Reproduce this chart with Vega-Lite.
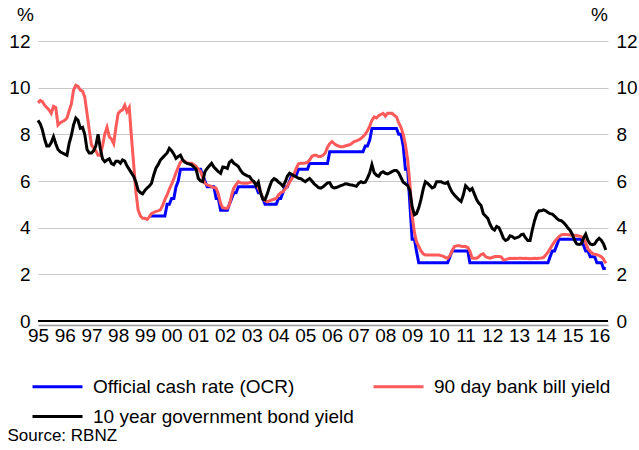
{
  "$schema": "https://vega.github.io/schema/vega-lite/v6.json",
  "width": 570,
  "height": 280,
  "autosize": {"type": "none"},
  "padding": {"left": 38, "top": 41, "right": 31, "bottom": 129},
  "config": {
    "font": "Liberation Sans",
    "view": {"stroke": null},
    "axis": {"labelColor": "#000", "titleColor": "#000", "labelFontSize": 19, "titleFontSize": 19, "titleFontWeight": "normal"},
    "legend": {"labelColor": "#000"}
  },
  "layer": [
    {
      "data": {"values": [
        {"d":"1995-01-01","b":9.35,"g":8.6},{"d":"1995-02-01","b":9.45,"g":8.45},{"d":"1995-03-01","b":9.4,"g":8.2},{"d":"1995-04-01","b":9.25,"g":7.8},{"d":"1995-05-01","b":9.15,"g":7.5},{"d":"1995-06-01","b":9.05,"g":7.5},{"d":"1995-07-01","b":8.9,"g":7.65},{"d":"1995-08-01","b":9.2,"g":7.9},{"d":"1995-09-01","b":9.15,"g":7.6},{"d":"1995-10-01","b":8.4,"g":7.35},{"d":"1995-11-01","b":8.5,"g":7.25},{"d":"1995-12-01","b":8.55,"g":7.2},
        {"d":"1996-01-01","b":8.6,"g":7.15},{"d":"1996-02-01","b":8.7,"g":7.1},{"d":"1996-03-01","b":9.0,"g":7.6},{"d":"1996-04-01","b":9.3,"g":7.95},{"d":"1996-05-01","b":9.9,"g":8.4},{"d":"1996-06-01","b":10.1,"g":8.7},{"d":"1996-07-01","b":10.05,"g":8.6},{"d":"1996-08-01","b":9.9,"g":8.26},{"d":"1996-09-01","b":9.85,"g":8.3},{"d":"1996-10-01","b":9.6,"g":8.0},{"d":"1996-11-01","b":8.9,"g":7.35},{"d":"1996-12-01","b":8.2,"g":7.2},
        {"d":"1997-01-01","b":7.55,"g":7.2},{"d":"1997-02-01","b":7.4,"g":7.3},{"d":"1997-03-01","b":7.3,"g":7.5},{"d":"1997-04-01","b":7.1,"g":8.0},{"d":"1997-05-01","b":7.1,"g":7.4},{"d":"1997-06-01","b":7.5,"g":6.95},{"d":"1997-07-01","b":8.0,"g":6.83},{"d":"1997-08-01","b":8.3,"g":6.9},{"d":"1997-09-01","b":7.9,"g":6.95},{"d":"1997-10-01","b":7.8,"g":6.75},{"d":"1997-11-01","b":7.6,"g":6.7},{"d":"1997-12-01","b":8.3,"g":6.85},
        {"d":"1998-01-01","b":8.9,"g":6.85},{"d":"1998-02-01","b":9.0,"g":6.76},{"d":"1998-03-01","b":9.05,"g":6.9},{"d":"1998-04-01","b":9.25,"g":6.85},{"d":"1998-05-01","b":8.97,"g":6.65},{"d":"1998-06-01","b":9.15,"g":6.5},{"d":"1998-07-01","b":7.9,"g":6.35},{"d":"1998-08-01","b":6.7,"g":6.2},{"d":"1998-09-01","b":5.5,"g":5.95},{"d":"1998-10-01","b":4.75,"g":5.6},{"d":"1998-11-01","b":4.5,"g":5.5},{"d":"1998-12-01","b":4.4,"g":5.45},
        {"d":"1999-01-01","b":4.4,"g":5.6},{"d":"1999-02-01","b":4.35,"g":5.7},{"d":"1999-03-01","o":4.5,"b":4.45,"g":5.78},{"d":"1999-04-01","o":4.5,"b":4.6,"g":5.9},{"d":"1999-05-01","o":4.5,"b":4.65,"g":6.25},{"d":"1999-06-01","o":4.5,"b":4.7,"g":6.55},{"d":"1999-07-01","o":4.5,"b":4.72,"g":6.7},{"d":"1999-08-01","o":4.5,"b":4.76,"g":6.9},{"d":"1999-09-01","o":4.5,"b":4.95,"g":7.0},{"d":"1999-10-01","o":4.5,"b":5.2,"g":7.1},{"d":"1999-11-01","o":5.0,"b":5.4,"g":7.2},{"d":"1999-12-01","o":5.0,"b":5.65,"g":7.4},
        {"d":"2000-01-01","o":5.25,"b":5.85,"g":7.3},{"d":"2000-02-01","o":5.25,"b":6.1,"g":7.15},{"d":"2000-03-01","o":5.75,"b":6.35,"g":6.97},{"d":"2000-04-01","o":6.0,"b":6.6,"g":7.05},{"d":"2000-05-01","o":6.5,"b":6.8,"g":7.11},{"d":"2000-06-01","o":6.5,"b":6.9,"g":6.9},{"d":"2000-07-01","o":6.5,"b":6.85,"g":6.8},{"d":"2000-08-01","o":6.5,"b":6.76,"g":6.76},{"d":"2000-09-01","o":6.5,"b":6.76,"g":6.72},{"d":"2000-10-01","o":6.5,"b":6.76,"g":6.69},{"d":"2000-11-01","o":6.5,"b":6.7,"g":6.6},{"d":"2000-12-01","o":6.5,"b":6.63,"g":6.5},
        {"d":"2001-01-01","o":6.5,"b":6.5,"g":6.11},{"d":"2001-02-01","o":6.5,"b":6.4,"g":6.0},{"d":"2001-03-01","o":6.25,"b":6.15,"g":5.97},{"d":"2001-04-01","o":6.0,"b":5.9,"g":6.4},{"d":"2001-05-01","o":5.75,"b":5.83,"g":6.54},{"d":"2001-06-01","o":5.75,"b":5.8,"g":6.65},{"d":"2001-07-01","o":5.75,"b":5.76,"g":6.76},{"d":"2001-08-01","o":5.75,"b":5.72,"g":6.6},{"d":"2001-09-01","o":5.25,"b":5.69,"g":6.5},{"d":"2001-10-01","o":5.25,"b":5.45,"g":6.4},{"d":"2001-11-01","o":4.75,"b":5.04,"g":6.33},{"d":"2001-12-01","o":4.75,"b":4.85,"g":6.6},
        {"d":"2002-01-01","o":4.75,"b":4.83,"g":6.58},{"d":"2002-02-01","o":4.75,"b":4.83,"g":6.54},{"d":"2002-03-01","o":5.0,"b":4.97,"g":6.8},{"d":"2002-04-01","o":5.25,"b":5.4,"g":6.88},{"d":"2002-05-01","o":5.5,"b":5.7,"g":6.76},{"d":"2002-06-01","o":5.5,"b":5.85,"g":6.7},{"d":"2002-07-01","o":5.75,"b":5.97,"g":6.62},{"d":"2002-08-01","o":5.75,"b":5.92,"g":6.45},{"d":"2002-09-01","o":5.75,"b":5.9,"g":6.33},{"d":"2002-10-01","o":5.75,"b":5.9,"g":6.27},{"d":"2002-11-01","o":5.75,"b":5.9,"g":6.22},{"d":"2002-12-01","o":5.75,"b":5.93,"g":6.19},
        {"d":"2003-01-01","o":5.75,"b":5.97,"g":6.05},{"d":"2003-02-01","o":5.75,"b":5.95,"g":5.97},{"d":"2003-03-01","o":5.75,"b":5.85,"g":5.8},{"d":"2003-04-01","o":5.5,"b":5.7,"g":5.95},{"d":"2003-05-01","o":5.5,"b":5.5,"g":5.5},{"d":"2003-06-01","o":5.25,"b":5.25,"g":5.22},{"d":"2003-07-01","o":5.0,"b":5.15,"g":5.2},{"d":"2003-08-01","o":5.0,"b":5.11,"g":5.45},{"d":"2003-09-01","o":5.0,"b":5.15,"g":5.75},{"d":"2003-10-01","o":5.0,"b":5.19,"g":6.0},{"d":"2003-11-01","o":5.0,"b":5.22,"g":6.1},{"d":"2003-12-01","o":5.0,"b":5.25,"g":6.05},
        {"d":"2004-01-01","o":5.25,"b":5.4,"g":5.95},{"d":"2004-02-01","o":5.25,"b":5.5,"g":5.88},{"d":"2004-03-01","o":5.5,"b":5.54,"g":5.78},{"d":"2004-04-01","o":5.75,"b":5.65,"g":5.95},{"d":"2004-05-01","o":5.75,"b":5.78,"g":6.2},{"d":"2004-06-01","o":6.0,"b":5.95,"g":6.33},{"d":"2004-07-01","o":6.25,"b":6.1,"g":6.28},{"d":"2004-08-01","o":6.25,"b":6.3,"g":6.22},{"d":"2004-09-01","o":6.25,"b":6.55,"g":6.17},{"d":"2004-10-01","o":6.5,"b":6.74,"g":6.12},{"d":"2004-11-01","o":6.5,"b":6.76,"g":6.1},{"d":"2004-12-01","o":6.5,"b":6.76,"g":6.03},
        {"d":"2005-01-01","o":6.5,"b":6.77,"g":5.97},{"d":"2005-02-01","o":6.5,"b":6.8,"g":6.05},{"d":"2005-03-01","o":6.75,"b":6.9,"g":6.11},{"d":"2005-04-01","o":6.75,"b":7.05,"g":6.0},{"d":"2005-05-01","o":6.75,"b":7.1,"g":5.88},{"d":"2005-06-01","o":6.75,"b":7.1,"g":5.8},{"d":"2005-07-01","o":6.75,"b":7.05,"g":5.72},{"d":"2005-08-01","o":6.75,"b":7.05,"g":5.69},{"d":"2005-09-01","o":6.75,"b":7.1,"g":5.75},{"d":"2005-10-01","o":6.75,"b":7.2,"g":5.83},{"d":"2005-11-01","o":6.75,"b":7.45,"g":5.92},{"d":"2005-12-01","o":7.25,"b":7.6,"g":5.93},
        {"d":"2006-01-01","o":7.25,"b":7.69,"g":5.75},{"d":"2006-02-01","o":7.25,"b":7.6,"g":5.7},{"d":"2006-03-01","o":7.25,"b":7.54,"g":5.72},{"d":"2006-04-01","o":7.25,"b":7.5,"g":5.76},{"d":"2006-05-01","o":7.25,"b":7.47,"g":5.8},{"d":"2006-06-01","o":7.25,"b":7.47,"g":5.83},{"d":"2006-07-01","o":7.25,"b":7.5,"g":5.88},{"d":"2006-08-01","o":7.25,"b":7.53,"g":5.87},{"d":"2006-09-01","o":7.25,"b":7.55,"g":5.84},{"d":"2006-10-01","o":7.25,"b":7.62,"g":5.83},{"d":"2006-11-01","o":7.25,"b":7.69,"g":5.8},{"d":"2006-12-01","o":7.25,"b":7.72,"g":5.77},
        {"d":"2007-01-01","o":7.25,"b":7.76,"g":5.9},{"d":"2007-02-01","o":7.25,"b":7.82,"g":5.97},{"d":"2007-03-01","o":7.25,"b":7.9,"g":5.93},{"d":"2007-04-01","o":7.5,"b":8.0,"g":5.95},{"d":"2007-05-01","o":7.5,"b":8.15,"g":6.12},{"d":"2007-06-01","o":7.75,"b":8.35,"g":6.35},{"d":"2007-07-01","o":8.25,"b":8.6,"g":6.7},{"d":"2007-08-01","o":8.25,"b":8.75,"g":6.35},{"d":"2007-09-01","o":8.25,"b":8.7,"g":6.25},{"d":"2007-10-01","o":8.25,"b":8.8,"g":6.2},{"d":"2007-11-01","o":8.25,"b":8.85,"g":6.35},{"d":"2007-12-01","o":8.25,"b":8.9,"g":6.4},
        {"d":"2008-01-01","o":8.25,"b":8.78,"g":6.33},{"d":"2008-02-01","o":8.25,"b":8.9,"g":6.3},{"d":"2008-03-01","o":8.25,"b":8.9,"g":6.35},{"d":"2008-04-01","o":8.25,"b":8.9,"g":6.4},{"d":"2008-05-01","o":8.25,"b":8.82,"g":6.45},{"d":"2008-06-01","o":8.25,"b":8.75,"g":6.45},{"d":"2008-07-01","o":8.0,"b":8.5,"g":6.35},{"d":"2008-08-01","o":8.0,"b":8.3,"g":6.15},{"d":"2008-09-01","o":7.5,"b":8.0,"g":5.95},{"d":"2008-10-01","o":6.5,"b":7.55,"g":5.88},{"d":"2008-11-01","o":6.5,"b":6.9,"g":5.8},{"d":"2008-12-01","o":5.0,"b":5.9,"g":5.6},
        {"d":"2009-01-01","o":3.5,"b":4.5,"g":4.9},{"d":"2009-02-01","o":3.5,"b":3.8,"g":4.55},{"d":"2009-03-01","o":3.0,"b":3.4,"g":4.6},{"d":"2009-04-01","o":2.5,"b":3.2,"g":4.85},{"d":"2009-05-01","o":2.5,"b":3.0,"g":5.2},{"d":"2009-06-01","o":2.5,"b":2.88,"g":5.65},{"d":"2009-07-01","o":2.5,"b":2.83,"g":5.97},{"d":"2009-08-01","o":2.5,"b":2.83,"g":5.9},{"d":"2009-09-01","o":2.5,"b":2.83,"g":5.8},{"d":"2009-10-01","o":2.5,"b":2.83,"g":5.7},{"d":"2009-11-01","o":2.5,"b":2.83,"g":5.75},{"d":"2009-12-01","o":2.5,"b":2.83,"g":5.97},
        {"d":"2010-01-01","o":2.5,"b":2.83,"g":5.97},{"d":"2010-02-01","o":2.5,"b":2.8,"g":5.97},{"d":"2010-03-01","o":2.5,"b":2.78,"g":5.92},{"d":"2010-04-01","o":2.5,"b":2.72,"g":5.9},{"d":"2010-05-01","o":2.5,"b":2.69,"g":5.95},{"d":"2010-06-01","o":2.75,"b":2.8,"g":5.7},{"d":"2010-07-01","o":3.0,"b":3.0,"g":5.52},{"d":"2010-08-01","o":3.0,"b":3.19,"g":5.4},{"d":"2010-09-01","o":3.0,"b":3.22,"g":5.3},{"d":"2010-10-01","o":3.0,"b":3.23,"g":5.2},{"d":"2010-11-01","o":3.0,"b":3.2,"g":5.12},{"d":"2010-12-01","o":3.0,"b":3.19,"g":5.4},
        {"d":"2011-01-01","o":3.0,"b":3.19,"g":5.8},{"d":"2011-02-01","o":3.0,"b":3.15,"g":5.7},{"d":"2011-03-01","o":2.5,"b":3.0,"g":5.6},{"d":"2011-04-01","o":2.5,"b":2.7,"g":5.68},{"d":"2011-05-01","o":2.5,"b":2.69,"g":5.45},{"d":"2011-06-01","o":2.5,"b":2.69,"g":5.2},{"d":"2011-07-01","o":2.5,"b":2.75,"g":5.05},{"d":"2011-08-01","o":2.5,"b":2.85,"g":4.95},{"d":"2011-09-01","o":2.5,"b":2.88,"g":4.6},{"d":"2011-10-01","o":2.5,"b":2.76,"g":4.5},{"d":"2011-11-01","o":2.5,"b":2.72,"g":4.4},{"d":"2011-12-01","o":2.5,"b":2.69,"g":4.15},
        {"d":"2012-01-01","o":2.5,"b":2.72,"g":3.97},{"d":"2012-02-01","o":2.5,"b":2.76,"g":3.9},{"d":"2012-03-01","o":2.5,"b":2.76,"g":4.05},{"d":"2012-04-01","o":2.5,"b":2.76,"g":4.0},{"d":"2012-05-01","o":2.5,"b":2.75,"g":3.8},{"d":"2012-06-01","o":2.5,"b":2.62,"g":3.55},{"d":"2012-07-01","o":2.5,"b":2.63,"g":3.45},{"d":"2012-08-01","o":2.5,"b":2.66,"g":3.5},{"d":"2012-09-01","o":2.5,"b":2.69,"g":3.65},{"d":"2012-10-01","o":2.5,"b":2.68,"g":3.62},{"d":"2012-11-01","o":2.5,"b":2.69,"g":3.54},{"d":"2012-12-01","o":2.5,"b":2.68,"g":3.57},
        {"d":"2013-01-01","o":2.5,"b":2.69,"g":3.61},{"d":"2013-02-01","o":2.5,"b":2.69,"g":3.7},{"d":"2013-03-01","o":2.5,"b":2.68,"g":3.72},{"d":"2013-04-01","o":2.5,"b":2.69,"g":3.56},{"d":"2013-05-01","o":2.5,"b":2.68,"g":3.45},{"d":"2013-06-01","o":2.5,"b":2.67,"g":3.45},{"d":"2013-07-01","o":2.5,"b":2.68,"g":3.9},{"d":"2013-08-01","o":2.5,"b":2.69,"g":4.3},{"d":"2013-09-01","o":2.5,"b":2.68,"g":4.6},{"d":"2013-10-01","o":2.5,"b":2.69,"g":4.72},{"d":"2013-11-01","o":2.5,"b":2.7,"g":4.72},{"d":"2013-12-01","o":2.5,"b":2.72,"g":4.76},
        {"d":"2014-01-01","o":2.5,"b":2.83,"g":4.72},{"d":"2014-02-01","o":2.5,"b":2.95,"g":4.65},{"d":"2014-03-01","o":2.75,"b":3.1,"g":4.6},{"d":"2014-04-01","o":3.0,"b":3.25,"g":4.58},{"d":"2014-05-01","o":3.0,"b":3.4,"g":4.5},{"d":"2014-06-01","o":3.25,"b":3.52,"g":4.4},{"d":"2014-07-01","o":3.5,"b":3.62,"g":4.32},{"d":"2014-08-01","o":3.5,"b":3.69,"g":4.3},{"d":"2014-09-01","o":3.5,"b":3.71,"g":4.22},{"d":"2014-10-01","o":3.5,"b":3.71,"g":4.12},{"d":"2014-11-01","o":3.5,"b":3.7,"g":3.98},{"d":"2014-12-01","o":3.5,"b":3.69,"g":3.88},
        {"d":"2015-01-01","o":3.5,"b":3.69,"g":3.7},{"d":"2015-02-01","o":3.5,"b":3.67,"g":3.45},{"d":"2015-03-01","o":3.5,"b":3.66,"g":3.3},{"d":"2015-04-01","o":3.5,"b":3.64,"g":3.28},{"d":"2015-05-01","o":3.5,"b":3.62,"g":3.3},{"d":"2015-06-01","o":3.25,"b":3.55,"g":3.55},{"d":"2015-07-01","o":3.0,"b":3.35,"g":3.72},{"d":"2015-08-01","o":3.0,"b":3.1,"g":3.45},{"d":"2015-09-01","o":2.75,"b":2.98,"g":3.3},{"d":"2015-10-01","o":2.75,"b":2.9,"g":3.27},{"d":"2015-11-01","o":2.75,"b":2.86,"g":3.3},{"d":"2015-12-01","o":2.5,"b":2.84,"g":3.45},
        {"d":"2016-01-01","o":2.5,"b":2.8,"g":3.54},{"d":"2016-02-01","o":2.5,"b":2.75,"g":3.45},{"d":"2016-03-01","o":2.25,"b":2.65,"g":3.3},{"d":"2016-04-01","o":2.25,"b":2.47,"g":3.04}
      ]},
      "encoding": {
        "x": {
          "field": "d", "type": "temporal",
          "scale": {"type": "utc", "domain": [{"year": 1995, "month": 1, "date": 1, "utc": true}, {"year": 2016, "month": 5, "date": 1, "utc": true}]},
          "axis": {"format": "%y", "tickCount": {"interval": "year", "step": 1}, "labelOverlap": false, "labelFlush": false, "labelAngle": 0, "ticks": false, "domain": false, "grid": false, "labelPadding": 5, "title": "Source: RBNZ", "titleX": -31, "titleY": 114, "titleAlign": "left", "titleBaseline": "middle", "titleAnchor": null, "titleFontSize": 17}
        }
      },
      "layer": [
        {
          "mark": {"type": "line", "strokeWidth": 3},
          "encoding": {
            "y": {"field": "o", "type": "quantitative", "scale": {"domain": [0, 12]},
              "axis": {"orient": "left", "values": [0, 2, 4, 6, 8, 10, 12], "grid": true, "gridColor": "#c8c8c8", "gridWidth": 1, "domain": false, "ticks": false, "labelPadding": 8, "title": "%", "titleAngle": 0, "titleX": -13, "titleY": -27, "titleAlign": "center", "titleBaseline": "middle"}},
            "color": {"datum": "Official cash rate (OCR)", "type": "nominal",
              "scale": {"domain": ["Official cash rate (OCR)", "90 day bank bill yield", "10 year government bond yield"], "range": ["#0000ff", "#ff5a5a", "#000000"]},
              "legend": {"orient": "none", "legendX": 8, "legendY": 334, "direction": "horizontal", "columns": 2, "symbolType": "M-2.5,0H2.5", "symbolSize": 400, "symbolStrokeWidth": 3, "labelFontSize": 19, "labelOffset": 24, "columnPadding": 13, "rowPadding": 8, "title": null, "labelLimit": 400}}
          }
        },
        {
          "mark": {"type": "line", "strokeWidth": 3},
          "encoding": {
            "y": {"field": "b", "type": "quantitative",
              "axis": {"orient": "left", "values": [0, 2, 4, 6, 8, 10, 12], "grid": true, "gridColor": "#c8c8c8", "gridWidth": 1, "domain": false, "ticks": false, "labelPadding": 8, "title": "%", "titleAngle": 0, "titleX": -13, "titleY": -27, "titleAlign": "center", "titleBaseline": "middle"}},
            "color": {"datum": "90 day bank bill yield", "type": "nominal"}
          }
        },
        {
          "mark": {"type": "line", "strokeWidth": 3},
          "encoding": {
            "y": {"field": "g", "type": "quantitative",
              "axis": {"orient": "left", "values": [0, 2, 4, 6, 8, 10, 12], "grid": true, "gridColor": "#c8c8c8", "gridWidth": 1, "domain": false, "ticks": false, "labelPadding": 8, "title": "%", "titleAngle": 0, "titleX": -13, "titleY": -27, "titleAlign": "center", "titleBaseline": "middle"}},
            "color": {"datum": "10 year government bond yield", "type": "nominal"}
          }
        }
      ]
    },
    {
      "data": {"values": [{}]},
      "mark": {"type": "rule", "color": "#000000", "strokeWidth": 2},
      "encoding": {
        "y": {"datum": 0, "type": "quantitative", "scale": {"domain": [0, 12]},
          "axis": {"orient": "right", "values": [0, 2, 4, 6, 8, 10, 12], "grid": false, "domain": false, "ticks": false, "labelPadding": 8, "title": "%", "titleAngle": 0, "titleX": -9, "titleY": -27, "titleAlign": "center", "titleBaseline": "middle"}}
      }
    },
    {
      "data": {"values": [{}]},
      "mark": {"type": "rule", "opacity": 0},
      "encoding": {
        "x": {"datum": {"year": 2000, "month": 1, "date": 1, "utc": true}, "type": "temporal",
          "axis": {"orient": "bottom", "offset": 4, "domain": true, "domainColor": "#999999", "domainWidth": 1.5, "labels": false, "ticks": false, "grid": false, "title": null}}
      }
    }
  ],
  "resolve": {"axis": {"y": "independent", "x": "independent"}}
}
